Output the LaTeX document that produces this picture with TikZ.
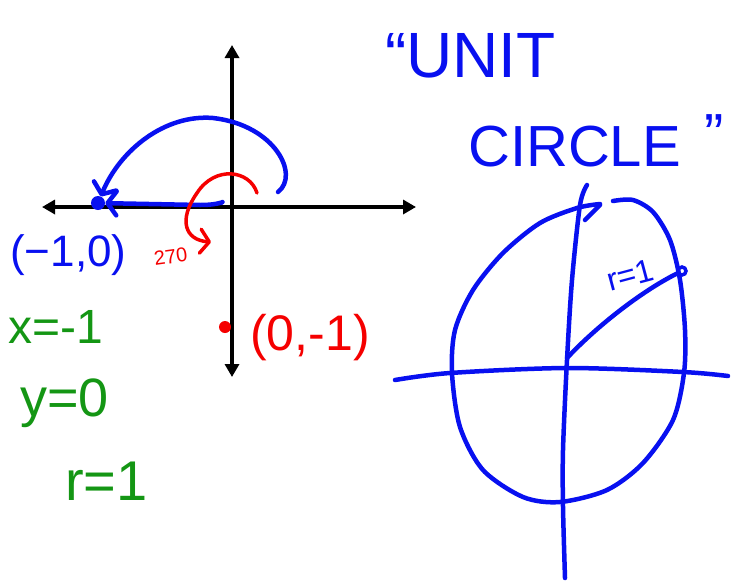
\documentclass[tikz,border=0pt]{standalone}
\usepackage{fontspec}
\setmainfont{Liberation Sans}
\usetikzlibrary{arrows.meta}

\definecolor{inkblue}{RGB}{8,16,240}
\definecolor{inkred}{RGB}{245,0,0}
\definecolor{inkgreen}{RGB}{20,150,20}

\begin{document}
\begin{tikzpicture}[x=1pt, y=-1pt,
    axis/.style={line width=3.5pt,
      {Triangle[length=13pt,width=14pt]}-{Triangle[length=13pt,width=14pt]}},
    pen/.style={line width=4.5pt, line cap=round, line join=round},
    barb/.style={-{Straight Barb[length=9pt,width=24pt,round]}},
    hand/.style={inner sep=0pt, anchor=base west},
    dot/.style={circle, fill, inner sep=0pt, minimum size=#1}]
  \useasboundingbox (0,0) rectangle (735,581);
  % ---- left sketch: axes with arrows both ways ----
  \coordinate (xl) at (42,207);  \coordinate (xr) at (416,207);
  \coordinate (yt) at (232,45);  \coordinate (yb) at (232,377);
  \draw[axis] (xl) -- (xr);
  \draw[axis] (yt) -- (yb);
  % ---- the point (-1,0) and the blue swing to it ----
  \node[dot=14pt, inkblue] (negdot) at (98,203) {};
  \coordinate (swing) at (278,192);
  \coordinate (slide) at (221,203);
  \draw[pen, barb, inkblue] (swing) .. controls (300,175) and (275,125) .. (213,118)
    .. controls (165,114) and (120,150) .. (negdot);
  \draw[pen, barb, inkblue] (slide) .. controls (225,200) and (222,205) .. (200,205)
    -- (negdot);
  \node[hand, inkblue, font=\fontsize{44}{44}\selectfont] (negpt) at (10,266) {(−1,0)};
  % ---- red 270 turn and the point (0,-1) ----
  \coordinate (turnA) at (257,193);
  \coordinate (turnB) at (211,242);
  \draw[pen, barb, inkred, line width=3.5pt] (turnA) .. controls (250,170) and (215,165) .. (197,193)
    .. controls (178,220) and (185,240) .. (turnB);
  \node[hand, inkred, font=\fontsize{20}{20}\selectfont, rotate=8] (deg) at (155,266) {270};
  \node[dot=12pt, inkred] (downdot) at (225,327) {};
  \node[hand, inkred, font=\fontsize{50}{50}\selectfont] (downpt) at (250,350) {(0,-1)};
  % ---- green notes ----
  \node[hand, inkgreen, font=\fontsize{48}{48}\selectfont] (xeq) at (8,343) {x=-1};
  \node[hand, inkgreen, font=\fontsize{54}{54}\selectfont] (yeq) at (20,416) {y=0};
  \node[hand, inkgreen, font=\fontsize{56}{56}\selectfont] (req) at (65,500) {r=1};
  % ---- title ----
  \node[hand, inkblue, font=\fontsize{64}{64}\selectfont] (unit) at (385,77) {“UNIT};
  \node[hand, inkblue, font=\fontsize{58}{58}\selectfont] (circ) at (468,166)
    {CIRCLE\hspace{24pt}\raisebox{12pt}{”}};
  % ---- right sketch: the circle itself ----
  \draw[pen, inkblue] plot[smooth] coordinates {(395,380) (450,373) (567,368) (683,372) (728,376)};
  \draw[pen, inkblue] plot[smooth] coordinates {(587,185) (580,205) (572,280) (567,360) (563,450) (563,507) (565,578)};
  \draw[pen, inkblue] (585,220) -- (600,205);
  \draw[pen, inkblue] plot[smooth] coordinates {(600,204) (577,208) (540,223) (503,253) (473,290)
    (455,330) (452,373) (460,427) (483,470) (523,497) (560,502) (607,490) (643,463)
    (673,420) (684,373) (685,330) (680,280) (670,240) (653,212) (633,200) (613,201)};
  \coordinate (ctr) at (567,358);
  \node[circle, draw=inkblue, line width=3.5pt, inner sep=0pt, minimum size=8pt] (rim) at (682,271) {};
  \draw[pen, inkblue] (ctr) .. controls (595,328) and (640,292) .. (rim);
  \node[inkblue, font=\fontsize{32}{32}\selectfont, rotate=15, inner sep=0pt] (rlbl) at (630,275) {r=1};
\end{tikzpicture}
\end{document}
